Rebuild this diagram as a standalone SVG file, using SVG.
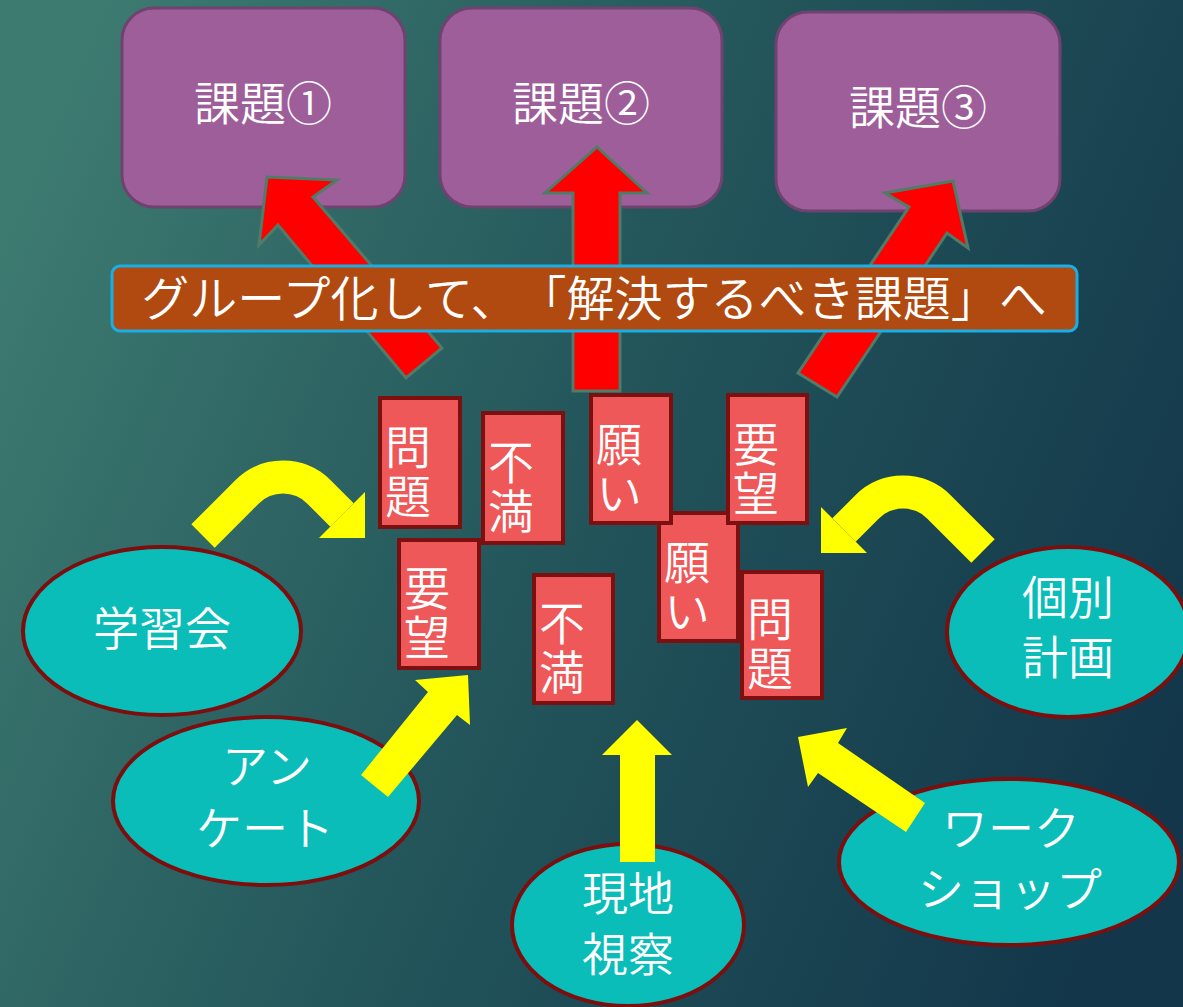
<svg xmlns="http://www.w3.org/2000/svg" width="1183" height="1007" viewBox="0 0 1183 1007">
<defs>
<linearGradient id="bg" gradientUnits="userSpaceOnUse" x1="0" y1="250" x2="1183" y2="750">
<stop offset="0" stop-color="#3d7a70"/>
<stop offset="0.5" stop-color="#22545a"/>
<stop offset="1" stop-color="#13364a"/>
</linearGradient>
<style>
.t{font-family:"Noto Sans CJK JP","Noto Sans",sans-serif;fill:#ffffff;font-size:46px;font-weight:350;text-spacing-trim:space-all}
.v{writing-mode:vertical-rl;letter-spacing:3px}
.box{fill:#9e5e9a;stroke:#70426f;stroke-width:3}
.card{fill:#ef5858;stroke:#7c1010;stroke-width:4}
.ell{fill:#0abdb8;stroke:#7c0e0e;stroke-width:4}
.red{fill:#ff0000;stroke:#4f7c68;stroke-width:3;stroke-linejoin:miter}
.yel{fill:#ffff00}
.yband{fill:none;stroke:#ffff00;stroke-width:33}
</style>
</defs>
<rect x="0" y="0" width="1183" height="1007" fill="url(#bg)"/>

<g id="issue1"><rect class="box" x="122" y="8" width="283" height="199" rx="32"/><text class="t" x="263" y="120" text-anchor="middle">課題①</text></g>
<g id="issue2"><rect class="box" x="440" y="8" width="282" height="199" rx="32"/><text class="t" x="581" y="120" text-anchor="middle">課題②</text></g>
<g id="issue3"><rect class="box" x="776" y="12" width="284" height="199" rx="32"/><text class="t" x="918" y="124" text-anchor="middle">課題③</text></g>

<g id="src-gakushukai"><ellipse class="ell" cx="162" cy="631" rx="139" ry="84"/><text class="t" x="162" y="645" text-anchor="middle">学習会</text></g>
<g id="src-enquete"><ellipse class="ell" cx="266" cy="801" rx="153" ry="84"/><text class="t" text-anchor="middle"><tspan x="267" y="783">アン</tspan><tspan x="265" y="845">ケート</tspan></text></g>
<g id="src-genchi"><ellipse class="ell" cx="628" cy="925" rx="116" ry="81"/><text class="t" text-anchor="middle"><tspan x="628" y="910">現地</tspan><tspan x="628" y="971">視察</tspan></text></g>
<g id="src-workshop"><ellipse class="ell" cx="1009" cy="862" rx="170" ry="83"/><text class="t" text-anchor="middle"><tspan x="1011" y="845">ワーク</tspan><tspan x="1010" y="906">ショップ</tspan></text></g>
<g id="src-kobetsu"><ellipse class="ell" cx="1068" cy="632" rx="121" ry="85"/><text class="t" text-anchor="middle"><tspan x="1068" y="614">個別</tspan><tspan x="1068" y="674">計画</tspan></text></g>

<g id="connectors">
<polygon class="red" points="267,177 337,180 313,197 442,348 406,378 278,225 259,245"/>
<polygon class="red" points="597,147 647,193 620,193 620,391 573,391 573,193 545,193"/>
<polygon class="red" points="953,181 968,248 947,233 837,397 798,373 909,207 885,193"/>
<path class="yband" d="M203 536 L247 492 A51 51 0 0 1 319 492 L342 515"/>
<polygon class="yel" points="365,492 365,538 319,538"/>
<path class="yband" d="M983 551 L939 507 A51 51 0 0 0 867 507 L844 530"/>
<polygon class="yel" points="821,507 821,553 867,553"/>
<polygon class="yel" points="468,675 470,725 457,715 388,797 361,775 428,692 415,680"/>
<polygon class="yel" points="637,720 672,755 655,755 655,862 620,862 620,755 602,755"/>
<polygon class="yel" points="798,737 847,728 838,743 925,803 906,832 818,773 808,787"/>
</g>

<g id="banner"><rect x="112" y="266" width="965" height="65" rx="8" fill="#b04a10" stroke="#19aee6" stroke-width="3"/><text class="t" x="594" y="316" text-anchor="middle" style="font-size:48px">グループ化して、「解決するべき課題」へ</text></g>

<g id="card-negai2"><rect class="card" x="659" y="513" width="79" height="128"/><text class="t v" x="687" y="539">願い</text></g>
<g id="card-mondai1"><rect class="card" x="380" y="398" width="80" height="129"/><text class="t v" x="408" y="424">問題</text></g>
<g id="card-fuman1"><rect class="card" x="483" y="413" width="80" height="130"/><text class="t v" x="511" y="439">不満</text></g>
<g id="card-negai1"><rect class="card" x="591" y="395" width="80" height="128"/><text class="t v" x="619" y="421">願い</text></g>
<g id="card-youbou2"><rect class="card" x="728" y="395" width="79" height="128"/><text class="t v" x="756" y="421">要望</text></g>
<g id="card-youbou1"><rect class="card" x="399" y="540" width="80" height="128"/><text class="t v" x="427" y="565">要望</text></g>
<g id="card-fuman2"><rect class="card" x="534" y="575" width="79" height="128"/><text class="t v" x="562" y="600">不満</text></g>
<g id="card-mondai2"><rect class="card" x="742" y="572" width="80" height="126"/><text class="t v" x="770" y="596">問題</text></g>
</svg>
